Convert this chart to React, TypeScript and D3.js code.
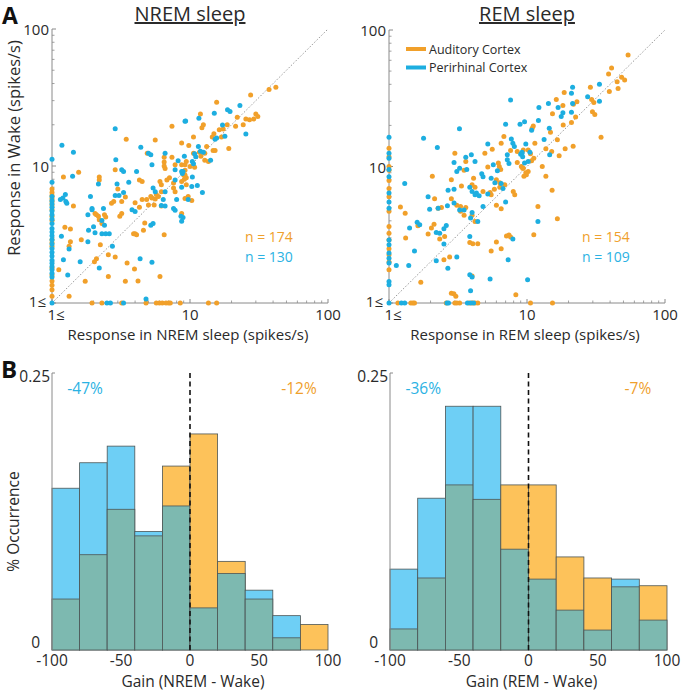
import React from 'react';
import * as d3 from 'd3';

type P = [number, number];

// ---------- Scatter data: [sleep rate, wake rate] (spikes/s), values <=1 shown at 1 ----------
const nremAud: P[] = [
  [1,6.8],[1,6.4],[1,6.1],[1,5.8],[1,5.5],[1,5.2],[1,4.8],[1,4.3],[1,4.0],[1,2.9],[1,2.75],[1,2.6],[1,1.8],[1,1.6],[1,1.45],[1,1.35],[1,1.25],[1,1.12],
  [1.95,1],[2.3,1],[3.2,1],[4.8,1],[5.7,1],[6.0,1],[6.3,1],[6.7,1],[7.0,1],[7.2,1],[8.5,1],[13.6,1],[15.6,1],
  [3.45,15.7],[5.6,15.5],[7.4,19.5],[8.7,14.7],[4.9,12.4],[6.5,11.6],[6.5,10.7],[6.5,10.0],[6.6,9.6],[7.4,11.6],[7.8,10.2],[8.7,10.2],[9.2,10.2],[9.2,8.6],[9.4,8.2],
  [2.87,9.4],[4.5,7.7],[4.3,7.9],[3.0,6.8],[3.4,5.95],[2.2,8.3],[2.2,7.9],[1.56,9.0],[1.21,8.3],[2.7,5.35],[4.5,5.7],[5.2,6.0],[5.6,5.75],[5.9,6.0],[6.2,7.3],[1.43,5.1],
  [6.06,7.7],[6.8,7.9],[7.1,8.2],[7.6,7.5],[6.2,6.5],[5.7,6.2],[5.3,5.85],[4.85,5.7],[5.0,5.2],[5.5,5.2],[6.2,5.1],[7.6,6.9],[7.8,6.5],[8.7,7.7],[9.4,7.3],[9.7,6.0],
  [2.8,5.5],[3.2,5.5],[4.0,5.4],[4.3,5.0],[2.05,4.5],[2.1,4.4],[2.17,4.3],[2.4,4.4],[2.45,4.25],[1.63,2.9],[1.24,3.57],[1.36,3.47],[1.36,2.8],[1.33,2.6],[1.12,1.75],[1.74,1.44],[1.33,1.12],
  [2.24,2.66],[2.03,2.0],[2.1,2.1],[2.56,2.25],[2.56,1.56],[2.87,2.17],[3.4,1.44],[3.5,1.96],[3.96,1.77],[4.2,1.45],[6.06,1.56],[3.9,3.2],[4.0,3.2],[4.1,3.15],[4.6,3.4],[4.7,3.84],[6.5,3.15],
  [8.7,4.5],[3.2,4.5],[3.1,4.3],[2.2,4.06],[2.3,3.8],
  [41.9,37.5],[37.4,36.1],[27.5,33],[15.6,29.2],[11.9,24],[30,24],[31,23],[29,22],[25.4,22],[27,21.8],[22,22.7],[12.5,20],[12.2,19],[18.6,20],[21.4,19.5],[24.3,20],
  [17.4,18.6],[16.3,18.4],[14.9,17.2],[14.5,16.3],[16.9,16.3],[19.1,13.4],[10.6,16.3],[9.8,14.1],[14.7,13.0],[15.2,13.0],[13.2,13.9],[10.6,12.4],[11.7,12.6],[12.8,12.4],
  [12.0,11.8],[12.8,11.0],[13.6,10.8],[9.4,10.8],[10,9.9],[10.8,9.8],[9.2,9.3],[9.0,8.6],[9.1,8.0],[9.2,5.8],[10.3,5.6],
];
const nremPer: P[] = [
  [1,11.2],[1,7.6],[1,6.0],[1,5.6],[1,5.3],[1,5.0],[1,4.7],[1,4.4],[1,4.1],[1,3.8],[1,3.5],[1,3.3],[1,3.1],[1,2.9],[1,2.7],[1,2.5],[1,2.35],[1,2.2],[1,2.05],[1,1.95],[1,1.85],[1,1.75],[1,1.65],[1,1.55],[1,1],
  [2.5,1],[2.65,1],[3.3,1],[4.8,1.07],
  [2.87,18.7],[1.18,14.2],[1.43,12.6],[9.2,21.2],[4.4,13.7],[5.0,12.4],[5.2,12.1],[6.6,12.4],[8.2,10.9],[8.9,9.1],[7.8,9.4],[5.3,10.2],[2.9,11.1],[3.2,9.4],[3.3,9.1],[4.1,9.1],
  [3.6,7.6],[2.96,7.4],[2.87,6.1],[3.06,6.1],[3.3,6.4],[2.17,7.4],[1.9,6.0],[1.25,6.2],[1.15,5.7],[1.2,5.85],[1.26,5.5],[1.41,8.4],[5.4,6.9],[5.6,6.5],[6.6,6.5],[8.7,7.0],
  [8.0,5.7],[1.95,4.9],[2.36,4.9],[7.8,7.9],[6.4,5.7],[6.6,5.1],[9.7,5.7],
  [1.28,5.35],[6.2,5.15],[7.6,4.9],[7.8,4.75],[8.9,4.2],[1.82,4.4],[1.95,4.8],[2.3,4.0],[2.4,3.7],[2.0,3.6],[1.84,3.4],[2.05,3.25],[1.82,2.8],[2.3,3.2],[2.45,3.2],[2.6,3.2],
  [1.17,3.07],[1.33,2.48],[1.21,2.07],[1.6,2.0],[1.3,1.6],[2.74,2.6],[2.2,1.8],[4.35,2.1],[5.3,1.98],[3.8,4.8],[4.0,4.65],[5.2,3.7],[5.4,3.8],[8.6,4.3],[8.7,3.95],
  [23,27.6],[18.7,25.7],[19.5,25],[15,24.3],[11.6,22.3],[9.3,21.3],[17.2,19.9],[25.4,17.1],[15.2,15.7],[15.6,16],[17.9,16.5],[11.5,13.9],[10.8,12.3],[11,11.7],[11.9,12.8],
  [12.5,12.6],[14.1,11.0],[9.1,11.8],[10.4,10.8],[10.6,10.4],[8.7,9.1],[8.8,8.8],[10.4,8.3],[10.3,7.1],[11.3,7.2],[12.3,6.4],
];
const remAud: P[] = [
  [1,13.6],[1,11.8],[1,10],[1,9.4],[1,7.9],[1,6.9],[1,6.0],[1,4.7],[1,3.64],[1,3.25],[1,2.9],[1,2.5],[1,2.26],[1,2.0],[1,1.75],
  [1.16,1],[1.44,1],[1.49,1],[1.53,1],[2.6,1],[3.0,1],[3.1,1],[3.25,1],[3.8,1],[4.0,1],[4.2,1],[4.4,1],[10.6,1],[15.3,1],
  [6.8,16.6],[6.5,14.8],[5.6,13.4],[7.6,13.1],[8.5,12.9],[9.4,13.2],[4.95,12.5],[3.0,12.5],[3.6,10.9],[8.5,10.7],[9.1,10.0],[6.2,10.6],[6.3,10.0],[6.45,9.5],[5.2,9.9],[3.5,9.4],
  [4.1,8.2],[6.0,8.0],[6.35,7.6],[6.9,7.35],[2.83,8.0],[2.06,8.5],[4.0,7.35],[4.2,7.05],[3.35,7.2],[4.8,6.56],[5.4,6.45],[5.5,6.2],[5.8,6.8],[6.35,7.05],[2.83,5.8],[2.14,5.8],
  [7.95,6.56],[8.15,6.2],[9.4,9.7],[10.2,9.2],[9.9,8.7],[1.21,5.04],[2.27,4.95],[2.4,5.0],[3.3,5.1],
  [1.31,4.55],[1.32,2.99],[1.7,1.42],[1.62,3.68],[1.92,3.2],[2.03,3.54],[2.12,3.78],[2.53,3.07],[2.33,2.94],[2.5,2.07],[2.75,2.17],[3.1,5.2],[3.3,4.7],[3.5,4.4],[3.6,5.0],
  [4.0,4.4],[4.2,3.96],[3.85,2.78],[4.05,2.72],[4.4,2.72],[4.0,1.58],[2.83,1.18],[2.95,1.17],[3.05,1.12],[5.5,2.4],[6.0,2.8],[6.5,2.5],[7.1,3.1],[7.4,3.15],[7.6,3.04],[8.3,1.15],[6.0,5.2],[6.5,4.9],
  [54,65.6],[41,52.6],[39,47.6],[45,41.8],[48.5,45],[51,43],[45.7,37.2],[39.5,35.4],[28.8,38],[29.4,31],[30.5,29.4],[29.8,25.2],[31,24],[23,29.8],[21.7,28.6],[18.6,34.9],[16.3,31],
  [18.2,28],[15.3,24.3],[18.3,20.1],[22.5,23],[21,21],[11.1,19.8],[10.9,19.1],[14.8,17.8],[34.4,16.4],[21.6,14.1],[18.9,13.5],[17.1,12.0],[16.6,15.7],[11.4,14.8],[13.7,13.5],
  [15.1,12.9],[10.2,13.2],[10.6,12.4],[11.2,11.5],[10.8,11.0],[12.9,10.0],[13.7,8.5],[9.3,9.7],[9.8,9.0],[9.5,8.5],[15.2,6.7],[12,5.1],[16.6,4.14],[11.2,3.16],
];
const remPer: P[] = [
  [1,16.4],[1,12.5],[1,11.5],[1,9.5],[1,8.4],[1,6.4],[1,5.5],[1,4.95],[1,2.9],[1,2.67],[1,2.32],[1,2.13],[1,1.96],[1,1.44],[1,1.36],[1,1],
  [1.23,1],[1.3,1],[2.63,1],[2.7,1],[3.7,1],[3.9,1],[4.1,1],
  [7.6,30.7],[9.6,21.3],[7.0,20.4],[8.9,20.4],[3.24,18.9],[1.78,16.1],[2.24,13.8],[7.7,15.9],[7.9,14.8],[8.1,14.0],[5.2,14.6],[7.2,12.2],[9.0,12.3],[9.2,12.7],[3.95,12.2],
  [4.2,10.9],[3.6,11.7],[2.96,10.7],[9.6,10.6],[10.2,10.9],[7.2,11.2],[7.4,10.5],[5.7,10.3],[6.1,9.3],[3.25,9.7],[3.1,9.2],[3.66,9.5],[4.7,8.85],[4.8,8.4],[5.5,8.2],[5.85,7.6],
  [6.5,7.5],[6.7,6.9],[2.68,6.7],[2.96,6.8],[3.85,7.05],[4.0,6.56],[4.3,6.4],[4.5,6.1],[4.2,6.2],[5.2,6.3],[1.92,6.0],[1.3,7.5],[7.0,5.5],[2.65,5.15],[2.96,5.4],[4.8,5.1],
  [1.41,3.54],[1.13,1.88],[1.39,1.88],[1.53,2.4],[1.6,3.9],[1.67,3.75],[1.97,4.87],[2.27,4.95],[2.2,3.28],[2.33,3.25],[2.5,3.5],[2.6,3.7],[2.5,2.7],[2.2,2.04],[2.67,1.8],
  [3.1,2.17],[3.25,4.8],[3.5,4.8],[4.0,4.6],[3.9,4.2],[4.4,3.96],[3.85,3.07],[3.85,1.61],[4.0,1.55],[3.9,1.23],[5.4,1.5],[7.9,2.94],[7.3,2.07],[10.1,1.48],
  [33.5,40],[27.5,32.5],[33.5,30],[21.4,38],[21,34.4],[21.4,29],[21,25],[14.3,29],[12.2,27],[16.8,27],[17.7,23.2],[18.2,24.8],[12.1,21.7],[10.8,18.4],[14.5,19.1],[13.3,15.8],
  [9.8,14.6],[14.6,12.2],[10.5,12.7],[9.2,12.5],[9.3,11.8],[12,3.96],
];

// ---------- Histogram data (fraction of neurons per 20% gain bin) ----------
const binEdges = [-100, -80, -60, -40, -20, 0, 20, 40, 60, 80, 100];
const nremHistAud = [0.046, 0.086, 0.127, 0.103, 0.166, 0.195, 0.080, 0.046, 0.011, 0.023];
const nremHistPer = [0.146, 0.169, 0.184, 0.107, 0.130, 0.038, 0.069, 0.054, 0.031, 0.0];
const remHistAud = [0.019, 0.065, 0.149, 0.136, 0.149, 0.149, 0.084, 0.065, 0.057, 0.058];
const remHistPer = [0.073, 0.137, 0.220, 0.220, 0.091, 0.064, 0.036, 0.018, 0.064, 0.027];

const scatterTicks = [1, 10, 100];
const scatterTickLabels = ['1≤', '10', '100'];
const histXTicks = [-100, -50, 0, 50, 100];
const histYTicks = [0, 0.25];
const histYTickLabels = ['0', '0.25'];

const FONT = '"Open Sans", "Noto Sans", sans-serif';
const ORANGE = '#F1A02A';
const BLUE = '#1DAEE0';
const ORANGE_TXT = '#EFA02C';
const BLUE_TXT = '#2BB2E3';
const H_ORANGE = '#FDC25A';
const H_BLUE = '#6ECFF5';
const H_TEAL = '#7DB9B0';
const AXIS = '#8a8a8a';
const TXT = '#2a2a2a';

function Scatter(props: {
  x0: number; x1: number; y0: number; y1: number;
  aud: P[]; per: P[]; title: string; xLabel: string; yLabel?: string;
  nA: string; nP: string; legend?: boolean;
}) {
  const { x0, x1, y0, y1, aud, per } = props;
  const x = d3.scaleLog().domain([1, 100]).range([x0, x1]);
  const y = d3.scaleLog().domain([1, 100]).range([y0, y1]);
  const minor: number[] = [];
  [1, 10].forEach((d) => { for (let k = 2; k <= 9; k++) minor.push(d * k); });
  const cx = (x0 + x1) / 2;
  return (
    <g>
      <text x={cx} y={21} textAnchor="middle" fontSize={20} fill={TXT} style={{ textDecoration: 'underline' }}>{props.title}</text>
      <line x1={x0} x2={x0} y1={y(1)} y2={y(100)} stroke={AXIS} strokeWidth={1} />
      <line x1={x0} x2={x1} y1={y0} y2={y0} stroke={AXIS} strokeWidth={1} />
      {minor.map((m) => (
        <g key={'m' + m}>
          <line x1={x0} x2={x0 + 2.5} y1={y(m)} y2={y(m)} stroke={AXIS} strokeWidth={0.8} />
          <line x1={x(m)} x2={x(m)} y1={y0} y2={y0 - 2.5} stroke={AXIS} strokeWidth={0.8} />
        </g>
      ))}
      {scatterTicks.map((t) => (
        <g key={'t' + t}>
          <line x1={x0} x2={x0 + 4} y1={y(t)} y2={y(t)} stroke={AXIS} strokeWidth={1} />
          <line x1={x(t)} x2={x(t)} y1={y0} y2={y0 - 4} stroke={AXIS} strokeWidth={1} />
        </g>
      ))}
      {scatterTicks.map((t, i) => (
        <text key={'yl' + t} x={x0 - (t === 1 ? 6 : 3)} y={y(t) + (t === 1 ? 4 : 6)} textAnchor="end" fontSize={15} fill={TXT}>{scatterTickLabels[i]}</text>
      ))}
      {scatterTicks.map((t, i) => (
        <text key={'xl' + t} x={x(t) + (t === 1 ? 4 : 0)} y={y0 + 17} textAnchor="middle" fontSize={15} fill={TXT}>{scatterTickLabels[i]}</text>
      ))}
      <line x1={x(1)} y1={y(1)} x2={x(100)} y2={y(100)} stroke="#8c8c8c" strokeWidth={0.9} strokeDasharray="1.5 1.8" />
      {aud.map((d, i) => (
        <circle key={'a' + i} cx={x(d[0])} cy={y(d[1])} r={2.5} fill={ORANGE} />
      ))}
      {per.map((d, i) => (
        <circle key={'p' + i} cx={x(d[0])} cy={y(d[1])} r={2.5} fill={BLUE} />
      ))}
      <text x={x0 + 193} y={242} fontSize={14} fill={ORANGE_TXT}>{props.nA}</text>
      <text x={x0 + 193} y={262} fontSize={14} fill={BLUE_TXT}>{props.nP}</text>
      <text x={cx - 2} y={340} textAnchor="middle" fontSize={15} fill={TXT}>{props.xLabel}</text>
      {props.yLabel && (
        <text transform={`translate(20,148) rotate(-90)`} textAnchor="middle" fontSize={16.5} fill={TXT}>{props.yLabel}</text>
      )}
      {props.legend && (
        <g>
          <line x1={x0 + 17} x2={x0 + 37} y1={49} y2={49} stroke={ORANGE} strokeWidth={4} />
          <text x={x0 + 40} y={54} fontSize={12.5} fill={TXT}>Auditory Cortex</text>
          <line x1={x0 + 17} x2={x0 + 37} y1={67.5} y2={67.5} stroke={BLUE} strokeWidth={4} />
          <text x={x0 + 40} y={72} fontSize={12.5} fill={TXT}>Perirhinal Cortex</text>
        </g>
      )}
    </g>
  );
}

function Hist(props: {
  x0: number; x1: number; y0: number; y1: number;
  aud: number[]; per: number[]; xLabel: string; yLabel?: string;
  pA: string; pP: string;
}) {
  const { x0, x1, y0, y1, aud, per } = props;
  const x = d3.scaleLinear().domain([-100, 100]).range([x0, x1]);
  const y = d3.scaleLinear().domain([0, 0.25]).range([y0, y1]);
  const bins = d3.range(aud.length).map((i) => ({
    a: binEdges[i], b: binEdges[i + 1], au: aud[i], pe: per[i],
  }));
  return (
    <g>
      {bins.map((bn, i) => {
        const hi = Math.max(bn.au, bn.pe);
        const lo = Math.min(bn.au, bn.pe);
        const col = bn.au >= bn.pe ? H_ORANGE : H_BLUE;
        return (
          <g key={i}>
            {hi > 0 && <rect x={x(bn.a)} width={x(bn.b) - x(bn.a)} y={y(hi)} height={y(0) - y(hi)} fill={col} stroke="#4d5656" strokeWidth={0.8} />}
            {lo > 0 && <rect x={x(bn.a)} width={x(bn.b) - x(bn.a)} y={y(lo)} height={y(0) - y(lo)} fill={H_TEAL} stroke="#4d5656" strokeWidth={0.8} />}
          </g>
        );
      })}
      <line x1={x0} x2={x0} y1={y(0)} y2={y(0.25)} stroke={AXIS} strokeWidth={1} />
      <line x1={x0} x2={x0 + 3} y1={y(0.25)} y2={y(0.25)} stroke={AXIS} strokeWidth={1} />
      <line x1={x(0)} x2={x(0)} y1={y(0)} y2={y(0.25)} stroke="#111" strokeWidth={1.6} strokeDasharray="5 3.5" />
      {histYTicks.map((t, i) => (
        <text key={'hy' + t} x={t === 0 ? x0 - 12 : x0 - 2} y={t === 0 ? y(t) - 2 : y(t) + 9} textAnchor="end" fontSize={15.5} fill={TXT}>{histYTickLabels[i]}</text>
      ))}
      {histXTicks.map((t) => (
        <text key={'hx' + t} x={x(t)} y={y0 + 16} textAnchor="middle" fontSize={15.5} fill={TXT}>{String(t)}</text>
      ))}
      <text x={(x0 + x1) / 2 + 3} y={y0 + 37} textAnchor="middle" fontSize={15.5} fill={TXT}>{props.xLabel}</text>
      {props.yLabel && (
        <text transform={`translate(19,${(y0 + y1) / 2 + 10}) rotate(-90)`} textAnchor="middle" fontSize={15.5} fill={TXT}>{props.yLabel}</text>
      )}
      <text x={x(-76)} y={y1 + 21} textAnchor="middle" fontSize={15.5} fill={BLUE_TXT}>{props.pP}</text>
      <text x={x(79)} y={y1 + 21} textAnchor="middle" fontSize={15.5} fill={ORANGE_TXT}>{props.pA}</text>
    </g>
  );
}

export default function App() {
  return (
    <svg width={682} height={694} style={{ position: 'absolute', left: 0, top: 0, background: '#fff' }} fontFamily={FONT}>
      <rect x={0} y={0} width={682} height={694} fill="#fff" />
      <text x={2} y={24} fontSize={23} fontWeight="bold" fill="#111">A</text>
      <text x={1} y={378} fontSize={24} fontWeight="bold" fill="#111">B</text>
      <Scatter x0={52} x1={328} y0={303} y1={29} aud={nremAud} per={nremPer}
        title="NREM sleep" xLabel="Response in NREM sleep (spikes/s)" yLabel="Response in Wake (spikes/s)"
        nA="n = 174" nP="n = 130" />
      <Scatter x0={389} x1={665} y0={303} y1={30} aud={remAud} per={remPer}
        title="REM sleep" xLabel="Response in REM sleep (spikes/s)"
        nA="n = 154" nP="n = 109" legend />
      <Hist x0={52} x1={328} y0={650} y1={373} aud={nremHistAud} per={nremHistPer}
        xLabel="Gain (NREM - Wake)" yLabel="% Occurrence" pA="-12%" pP="-47%" />
      <Hist x0={390} x1={667} y0={650} y1={373} aud={remHistAud} per={remHistPer}
        xLabel="Gain (REM - Wake)" pA="-7%" pP="-36%" />
    </svg>
  );
}
